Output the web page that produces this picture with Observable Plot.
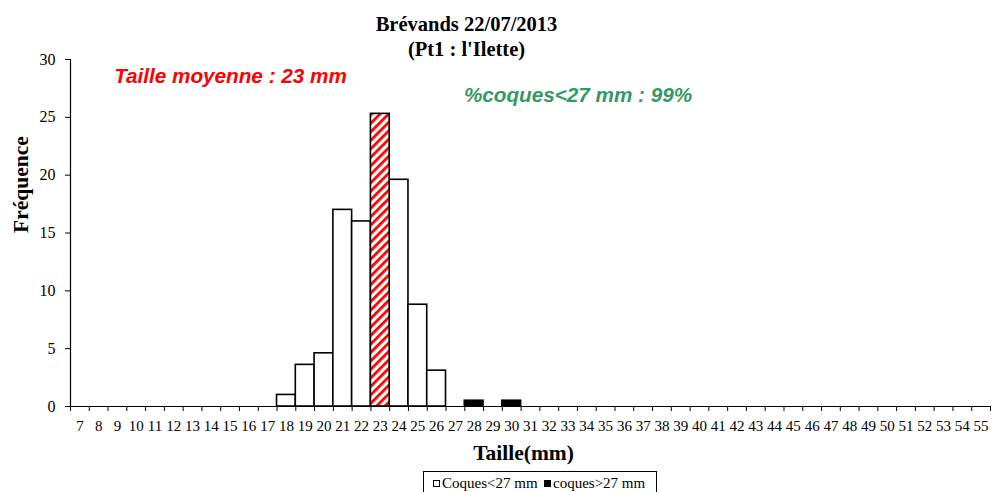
<!DOCTYPE html>
<html><head><meta charset="utf-8">
<script src="https://cdn.jsdelivr.net/npm/d3@7"></script>
<script src="https://cdn.jsdelivr.net/npm/@observablehq/plot@0.6"></script>
<style>
body{margin:0;background:#fff;}
#chart{position:relative;width:993px;height:492px;overflow:hidden;background:#fff;}
#legend{position:absolute;left:423px;top:471px;width:234px;height:30px;border:1px solid #000;box-sizing:border-box;
  font:15px "Liberation Serif","Times New Roman",serif;color:#000;white-space:nowrap;}
#legend .item{position:absolute;top:3px;line-height:17px;}
#legend .sw{display:inline-block;width:5px;height:5px;border:1px solid #000;margin-right:2px;vertical-align:1px;}
</style></head>
<body><div id="chart"></div>
<script>
// Data
const sizeTicks = [7,8,9,10,11,12,13,14,15,16,17,18,19,20,21,22,23,24,25,26,27,28,29,30,31,32,33,34,35,36,37,38,39,40,41,42,43,44,45,46,47,48,49,50,51,52,53,54,55];
const lessSizes = [18,19,20,21,22,23,24,25,26];
const lessValues = [1,3.6,4.6,17,16,25.3,19.6,8.8,3.1];
const moreSizes = [28,30];
const moreValues = [0.5,0.5];
const yTicks = [0,5,10,15,20,25,30];
const meanSize = 23;
const titleText = "Brévands 22/07/2013\n(Pt1 : l'Ilette)";
const meanText = "Taille moyenne : 23 mm";
const pctText = "%coques<27 mm : 99%";
const legendLabels = ["Coques<27 mm","coques>27 mm"];

const less = lessSizes.map((s,i)=>({size:s,value:lessValues[i]}));
const more = moreSizes.map((s,i)=>({size:s,value:moreValues[i]}));
const bounds = [sizeTicks[0]-0.5, ...sizeTicks.map(s=>s+0.5)];
const serif = "Liberation Serif, Times New Roman, serif";
const sans = "Liberation Sans, Arial, sans-serif";

const plot = Plot.plot({
  width: 993, height: 470,
  marginTop: 59, marginBottom: 64, marginLeft: 70, marginRight: 3,
  style: {fontFamily: serif, fontSize: "15px", color: "#000", background: "#fff", overflow: "visible"},
  x: {domain: [bounds[0], bounds[bounds.length-1]], axis: null},
  y: {domain: [0, 30], axis: null},
  marks: [
    Plot.rect(less, {filter: d=>d.size!==meanSize, x1: d=>d.size-0.5, x2: d=>d.size+0.5, y1: d=>0, y2: "value", fill: "white", stroke: "black", strokeWidth: 1.6}),
    Plot.rect(less, {filter: d=>d.size===meanSize, x1: d=>d.size-0.5, x2: d=>d.size+0.5, y1: d=>0, y2: "value", fill: "url(#hatch)", stroke: "black", strokeWidth: 1.6}),
    Plot.rect(more, {x1: d=>d.size-0.5, x2: d=>d.size+0.5, y1: d=>0, y2: "value", fill: "black", stroke: "black", strokeWidth: 1.6}),
    Plot.ruleY([0], {stroke: "black", strokeWidth: 1.2}),
    Plot.ruleX([bounds[0]], {stroke: "black", strokeWidth: 1.2}),
    Plot.axisY({ticks: yTicks, tickSize: 5, tickPadding: 10, label: null, fontSize: 16}),
    Plot.axisX({ticks: bounds, tickSize: 5, tickFormat: () => "", label: null}),
    Plot.axisX({ticks: sizeTicks, tickSize: 0, tickPadding: 14, label: null, fontSize: 15}),
    Plot.text(["Fréquence"], {frameAnchor: "left", dx: -49, rotate: -90, lineAnchor: "middle", fontWeight: "bold", fontSize: 21.5, fontFamily: serif}),
    Plot.text(["Taille(mm)"], {frameAnchor: "bottom", dy: 47, dx: -7, lineAnchor: "middle", fontWeight: "bold", fontSize: 21.5, fontFamily: serif}),
    Plot.text([titleText], {frameAnchor: "top-left", dx: 396, dy: -24.5, lineAnchor: "middle", fontWeight: "bold", fontSize: 20.5, lineHeight: 1.22, fontFamily: serif, textAnchor: "middle"}),
    Plot.text([meanText], {frameAnchor: "top-left", dx: 160, dy: 17, lineAnchor: "middle", fontWeight: "bold", fontStyle: "italic", fontSize: 20.7, fill: "#ff0000", fontFamily: sans, textAnchor: "middle"}),
    Plot.text([pctText], {frameAnchor: "top-left", dx: 507.5, dy: 36, lineAnchor: "middle", fontWeight: "bold", fontStyle: "italic", fontSize: 20.7, fill: "#339966", fontFamily: sans, textAnchor: "middle"})
  ]
});
d3.select(plot).insert("defs", ":first-child").html(
  '<pattern id="hatch" patternUnits="userSpaceOnUse" width="6" height="6" patternTransform="rotate(45)">' +
  '<rect width="6" height="6" fill="white"/><rect width="2.8" height="6" fill="red"/></pattern>');
const chart = document.getElementById("chart");
chart.appendChild(plot);
const legend = document.createElement("div");
legend.id = "legend";
legend.innerHTML =
  `<span class="item" style="left:9px"><span class="sw" style="background:#fff"></span>${legendLabels[0].replace("<","&lt;")}</span>` +
  `<span class="item" style="left:120px"><span class="sw" style="background:#000"></span>${legendLabels[1].replace(">","&gt;")}</span>`;
chart.appendChild(legend);
</script></body></html>
